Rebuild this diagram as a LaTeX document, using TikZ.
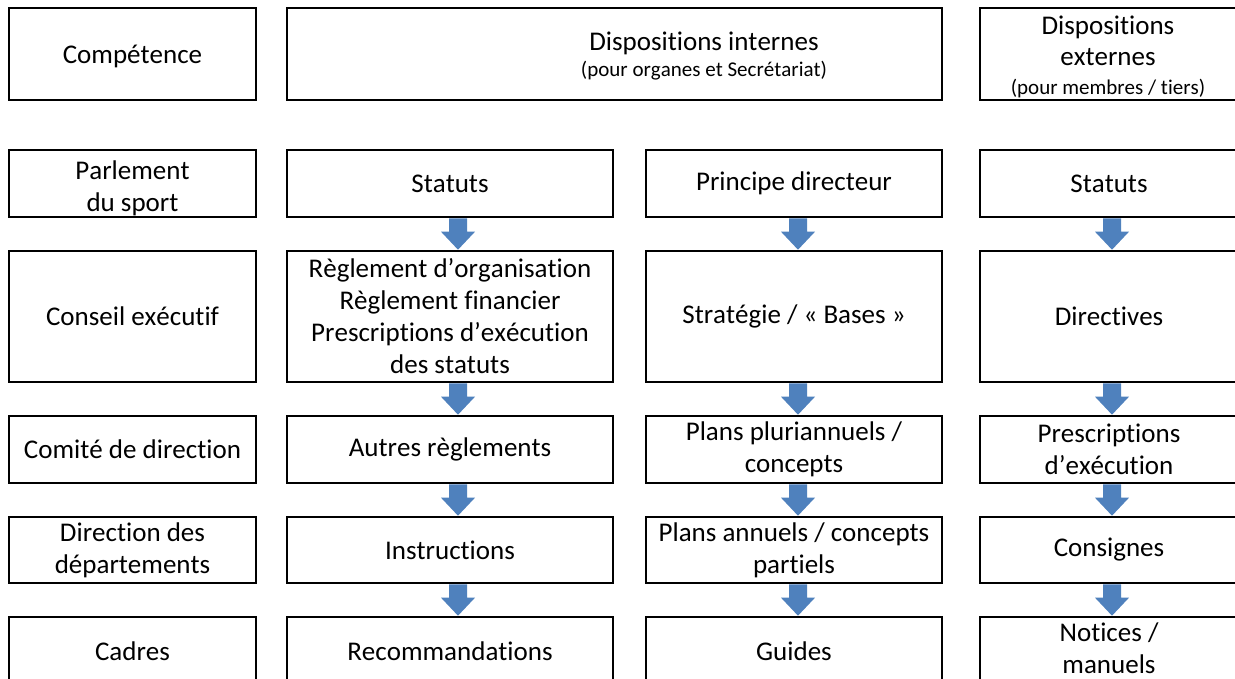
\documentclass[tikz,border=0pt]{standalone}
\usepackage{fontspec}
\setmainfont{Carlito}[Ligatures={NoCommon,NoRequired,NoContextual},Kerning=Off,RawFeature={-liga;-clig;-calt;-dlig;-rlig}]
\usetikzlibrary{calc}
\definecolor{arrowblue}{RGB}{79,129,189}
\newcommand\smalltxt{\fontsize{21}{24}\selectfont}
\newcommand\blockarr[3]{%
  \fill[arrowfill] ($(#1.south -| #3)+(-9,0)$) -- ($(#2.north -| #3)+(-9,-18)$)
    -- ($(#2.north -| #3)+(-17,-18)$) -- (#2.north -| #3)
    -- ($(#2.north -| #3)+(17,-18)$) -- ($(#2.north -| #3)+(9,-18)$)
    -- ($(#1.south -| #3)+(9,0)$) -- cycle;}
\begin{document}
\begin{tikzpicture}[x=1pt,y=-1pt,
  box/.style={draw=black,line width=2.6pt,rectangle,inner sep=0pt,align=center,
    font=\fontsize{27}{32}\selectfont},
  lbl/.style={inner sep=0pt,align=center,font=\fontsize{27}{32}\selectfont},
  arrowfill/.style={fill=arrowblue}]
\useasboundingbox[fill=white] (0,0) rectangle (1235,678);
% column x coordinates for arrows
\coordinate (xb) at (458,0);
\coordinate (xc) at (798,0);
\coordinate (xd) at (1112,0);
% helper: box from corners
\newcommand\bx[6]{\node[box,minimum width=#4-#2,minimum height=#5-#3] (#1) at ({(#2+#4)/2},{(#3+#5)/2}) {#6};}
% row 1
\bx{a1}{9}{8}{256}{100}{}
\node[lbl] (a1t) at (132.5,56) {Compétence};
\bx{b1}{287}{8}{942}{100}{}
\node[lbl] (b1t) at (704,56) {Dispositions internes\\[-6pt]{\smalltxt(pour organes et Secrétariat)}};
\bx{d1}{980}{8}{1238}{100}{}
\node[lbl] (d1t) at (1108,57) {Dispositions\\[-1pt]externes\\[-3pt]{\smalltxt(pour membres / tiers)}};
% row 2
\bx{a2}{9}{150}{256}{217}{}
\node[lbl] (a2t) at (132.5,188) {Parlement\\du sport};
\bx{b2}{287}{150}{613}{217}{Statuts}
\bx{c2}{646}{150}{942}{217}{Principe directeur}
\bx{d2}{980}{150}{1238}{217}{Statuts}
% row 3
\bx{a3}{9}{251}{256}{382}{Conseil exécutif}
\bx{b3}{287}{251}{613}{382}{Règlement d’organisation\\Règlement financier\\Prescriptions d’exécution\\des statuts}
\bx{c3}{646}{251}{942}{382}{Stratégie / « Bases »}
\bx{d3}{980}{251}{1238}{382}{Directives}
% row 4
\bx{a4}{9}{416}{256}{483}{Comité de direction}
\bx{b4}{287}{416}{613}{483}{Autres règlements}
\bx{c4}{646}{416}{942}{483}{Plans pluriannuels /\\concepts}
\bx{d4}{980}{416}{1238}{483}{Prescriptions\\d’exécution}
% row 5
\bx{a5}{9}{517}{256}{583}{Direction des\\départements}
\bx{b5}{287}{517}{613}{583}{Instructions}
\bx{c5}{646}{517}{942}{583}{Plans annuels / concepts\\partiels}
\bx{d5}{980}{517}{1238}{583}{Consignes}
% row 6
\bx{a6}{9}{617}{256}{685}{Cadres}
\bx{b6}{287}{617}{613}{685}{Recommandations}
\bx{c6}{646}{617}{942}{685}{Guides}
\bx{d6}{980}{617}{1238}{685}{}
\node[lbl] (d6t) at (1109,648) {Notices /\\manuels};
% arrows
\blockarr{b2}{b3}{xb}
\blockarr{b3}{b4}{xb}
\blockarr{b4}{b5}{xb}
\blockarr{b5}{b6}{xb}
\blockarr{c2}{c3}{xc}
\blockarr{c3}{c4}{xc}
\blockarr{c4}{c5}{xc}
\blockarr{c5}{c6}{xc}
\blockarr{d2}{d3}{xd}
\blockarr{d3}{d4}{xd}
\blockarr{d4}{d5}{xd}
\blockarr{d5}{d6}{xd}
\end{tikzpicture}
\end{document}
